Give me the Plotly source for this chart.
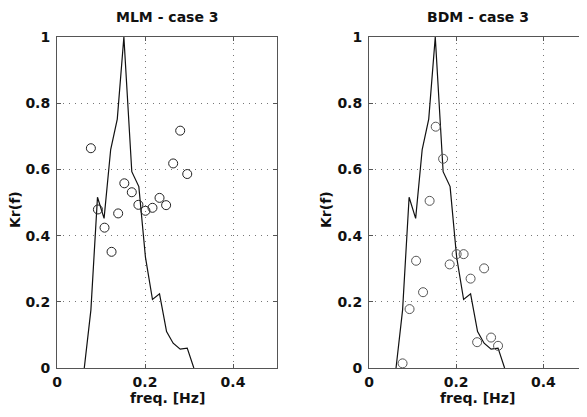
import plotly.graph_objects as go

# ---- data ----
f_line = [0.062, 0.077, 0.092, 0.107, 0.122, 0.137, 0.152, 0.170, 0.186, 0.201,
          0.217, 0.233, 0.249, 0.264, 0.280, 0.296, 0.311]
kr_line = [0.0, 0.175, 0.516, 0.452, 0.660, 0.752, 1.0, 0.593, 0.548, 0.335,
           0.207, 0.224, 0.110, 0.075, 0.057, 0.060, 0.0]

f_pts = [0.077, 0.093, 0.108, 0.124, 0.139, 0.153, 0.170, 0.185, 0.201, 0.217,
         0.233, 0.248, 0.264, 0.280, 0.296]
kr_mlm = [0.664, 0.479, 0.424, 0.351, 0.467, 0.558, 0.531, 0.493, 0.475, 0.484,
          0.514, 0.492, 0.618, 0.717, 0.586]
kr_bdm = [0.014, 0.178, 0.324, 0.229, 0.505, 0.729, 0.632, 0.313, 0.344, 0.344,
          0.270, 0.078, 0.301, 0.092, 0.067]

titles = ["MLM - case 3", "BDM - case 3"]
x_ticks = [0, 0.2, 0.4]
x_ticklabels = ["0", "0.2", "0.4"]
y_ticks = [0, 0.2, 0.4, 0.6, 0.8, 1]
y_ticklabels = ["0", "0.2", "0.4", "0.6", "0.8", "1"]
x_label = "freq. [Hz]"
y_label = "Kr(f)"

# ---- layout geometry (page body has an 8px default margin) ----
OFF = 8
W, H = 587 - OFF, 417 - 2 * OFF
ML, MR, MT = 57 - OFF, 0, 37 - OFF
PH = 331
MB = H - MT - PH
PW = W - ML - MR
dom1 = [0, 220 / PW]
dom2 = [(369 - 57) / PW, 1]

FONT = dict(family="DejaVu Sans", size=14, color="#111", weight="bold")

fig = go.Figure()

for i, (pts, mcol) in enumerate([(kr_mlm, "#222"), (kr_bdm, "#555")]):
    xa = "x" if i == 0 else "x2"
    ya = "y" if i == 0 else "y2"
    fig.add_trace(go.Scatter(x=f_line, y=kr_line, mode="lines",
                             line=dict(color="#111", width=1.2),
                             xaxis=xa, yaxis=ya, showlegend=False, cliponaxis=False))
    fig.add_trace(go.Scatter(x=f_pts, y=pts, mode="markers",
                             marker=dict(symbol="circle-open", size=9,
                                         color=mcol, line=dict(width=1, color=mcol)),
                             xaxis=xa, yaxis=ya, showlegend=False))

axcommon = dict(showline=True, linecolor="#555", linewidth=1, mirror="ticks",
                ticks="inside", ticklen=4, tickcolor="#555",
                showgrid=True, gridcolor="#777", gridwidth=1, griddash="1px,5px",
                zeroline=False, tickfont=FONT)

fig.update_layout(
    width=W, height=H,
    margin=dict(l=ML, r=MR, t=MT, b=MB),
    paper_bgcolor="white", plot_bgcolor="white",
    xaxis=dict(domain=dom1, range=[0, 0.5], tickvals=x_ticks, ticktext=x_ticklabels,
               anchor="y", ticklabelstandoff=1, **axcommon),
    yaxis=dict(domain=[0, 1], range=[0, 1], tickvals=y_ticks, ticktext=y_ticklabels,
               anchor="x", ticklabelstandoff=3, **axcommon),
    xaxis2=dict(domain=dom2, range=[0, 0.5], tickvals=x_ticks, ticktext=x_ticklabels,
                anchor="y2", ticklabelstandoff=1, **axcommon),
    yaxis2=dict(domain=[0, 1], range=[0, 1], tickvals=y_ticks, ticktext=y_ticklabels,
                anchor="x2", ticklabelstandoff=3, **axcommon),
)

ann = []
for dom, t in zip([dom1, dom2], titles):
    cx = (dom[0] + dom[1]) / 2
    ann.append(dict(x=cx, y=(368 - 17) / PH, xref="paper", yref="paper",
                    text=t, showarrow=False, font=FONT, xanchor="center", yanchor="middle"))
    ann.append(dict(x=cx, y=(368 - 398) / PH, xref="paper", yref="paper",
                    text=x_label, showarrow=False, font=FONT, xanchor="center", yanchor="middle"))
ann.append(dict(x=(15 - 57) / PW, y=(368 - 210) / PH, xref="paper", yref="paper",
                text=y_label, showarrow=False, font=FONT, textangle=-90,
                xanchor="center", yanchor="middle"))
ann.append(dict(x=(326 - 57) / PW, y=(368 - 210) / PH, xref="paper", yref="paper",
                text=y_label, showarrow=False, font=FONT, textangle=-90,
                xanchor="center", yanchor="middle"))
fig.update_layout(annotations=ann)

fig.write_html("out.html")
